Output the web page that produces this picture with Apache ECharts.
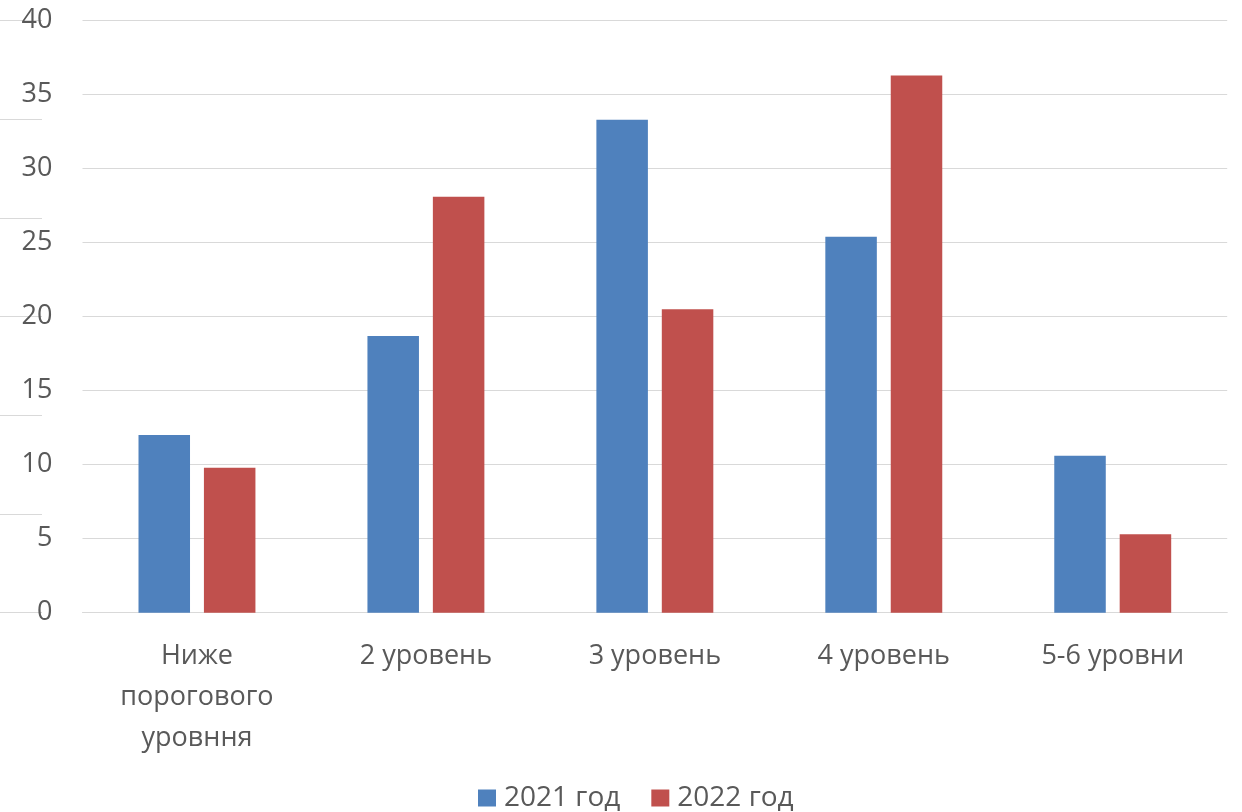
<!DOCTYPE html>
<html>
<head>
<meta charset="utf-8">
<script src="https://cdn.jsdelivr.net/npm/echarts@6/dist/echarts.min.js"></script>
<style>
html,body{margin:0;padding:0;background:#fff;}
#main{width:1242px;height:812px;}
</style>
</head>
<body>
<div id="main"></div>
<script>
var categories = ['Ниже\nпорогового\nуровння', '2 уровень', '3 уровень', '4 уровень', '5-6 уровни'];
var seriesNames = ['2021 год', '2022 год'];
var values2021 = [12.0, 18.7, 33.3, 25.4, 10.6];
var values2022 = [9.8, 28.1, 20.5, 36.3, 5.3];
var yTicks = { min: 0, max: 40, interval: 5 };

var textColor = '#595959';
var fontFamily = "'Open Sans', 'Noto Sans', sans-serif";
var chart = echarts.init(document.getElementById('main'));
chart.setOption({
  backgroundColor: '#ffffff',
  animation: false,
  textStyle: { fontFamily: fontFamily },
  grid: [
    { left: 82.5, right: 14.8, top: 20.7, bottom: 199.3, containLabel: false },
    { left: 0, width: 42, top: 20.7, bottom: 199.3, containLabel: false }
  ],
  legend: {
    data: seriesNames,
    top: 779,
    left: 473,
    itemWidth: 18,
    itemHeight: 17,
    itemGap: 31,
    icon: 'rect',
    textStyle: { color: textColor, fontSize: 28, fontFamily: fontFamily, padding: [0, 0, 0, 3] }
  },
  xAxis: [{
    type: 'category',
    gridIndex: 0,
    data: categories,
    axisLine: { show: true, lineStyle: { color: '#D9D9D9', width: 1 } },
    axisTick: { show: false },
    axisLabel: { color: textColor, fontSize: 27, lineHeight: 41, margin: 23, interval: 0, fontFamily: fontFamily }
  }, {
    type: 'value', gridIndex: 1, show: false
  }],
  yAxis: [{
    type: 'value',
    gridIndex: 0,
    min: yTicks.min, max: yTicks.max, interval: yTicks.interval,
    axisLine: { show: false },
    axisTick: { show: false },
    splitLine: { lineStyle: { color: '#D9D9D9', width: 1.2 } },
    axisLabel: { color: textColor, fontSize: 27, margin: 30, fontFamily: fontFamily }
  }, {
    type: 'value',
    gridIndex: 1,
    min: 0, max: 6, interval: 1,
    axisLine: { show: false },
    axisTick: { show: false },
    axisLabel: { show: false },
    splitLine: { lineStyle: { color: '#D9D9D9', width: 1.2 } }
  }],
  series: [{
    name: seriesNames[0],
    type: 'bar',
    xAxisIndex: 0, yAxisIndex: 0,
    data: values2021,
    barWidth: '22.5%',
    barGap: '27%',
    itemStyle: { color: '#4F81BD' }
  }, {
    name: seriesNames[1],
    type: 'bar',
    xAxisIndex: 0, yAxisIndex: 0,
    data: values2022,
    barWidth: '22.5%',
    barGap: '27%',
    itemStyle: { color: '#C0504D' }
  }]
});
</script>
</body>
</html>
